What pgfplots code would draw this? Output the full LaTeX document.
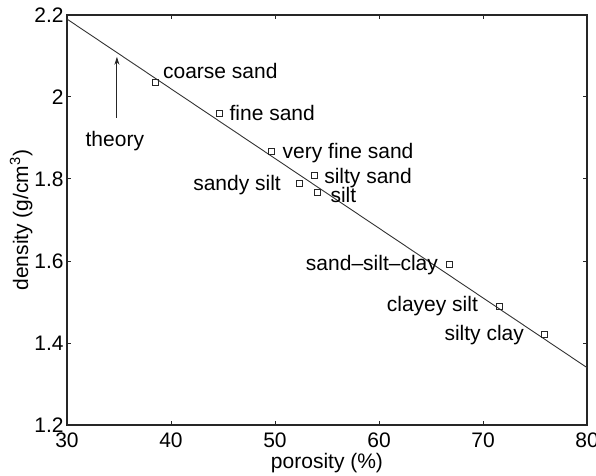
\documentclass[border=0pt]{standalone}
\usepackage{fontspec}
\setmainfont{Liberation Sans}
\usepackage{pgfplots}
\pgfplotsset{compat=1.18}
\usetikzlibrary{calc,arrows.meta}

% measured sediment samples: porosity (%) and bulk density (g/cm^3)
\pgfplotstableread{
x     y
38.5  2.035
44.7  1.959
49.7  1.867
52.3  1.789
53.8  1.808
54.1  1.768
66.8  1.592
71.6  1.489
75.9  1.422
}\samples

\begin{document}
\fontsize{10.5pt}{12.6pt}\selectfont
\begin{tikzpicture}
\begin{axis}[
  scale only axis, width=260pt, height=205pt,
  xmin=30, xmax=80, ymin=1.2, ymax=2.2,
  xtick={30,40,50,60,70,80},
  ytick={1.2,1.4,1.6,1.8,2,2.2},
  tick align=inside, major tick length=2pt,
  axis line style={line width=0.6pt, black!85},
  every tick/.style={black!85, line width=0.5pt},
  /pgf/number format/assume math mode=true,
  xticklabel style={anchor=base, yshift=-11.3pt},
  yticklabel style={anchor=east, inner sep=0pt, xshift=-1.5pt},
  clip=false,
]
% theoretical density line
\addplot[black!80, line width=0.45pt] coordinates {(30,2.19) (80,1.34)};
% samples
\addplot[only marks, mark=square, mark size=1.5pt, mark options={black!85, line width=0.4pt}] table {\samples};

\coordinate (ll) at (rel axis cs:0,0);
\coordinate (ur) at (rel axis cs:1,1);

\draw[black!85, line width=0.45pt, -{Stealth[length=4pt,width=2.5pt]}] (axis cs:34.8,1.949) -- (axis cs:34.8,2.098);
\node[anchor=base, inner sep=0] at (axis cs:34.6,1.879) {theory};

\node[anchor=base west, inner sep=0] at (axis cs:39.2,2.0456) {coarse sand};
\node[anchor=base west, inner sep=0] at (axis cs:45.6,1.942) {fine sand};
\node[anchor=base west, inner sep=0] at (axis cs:50.7,1.850) {very fine sand};
\node[anchor=base east, inner sep=0] at (axis cs:50.6,1.773) {sandy silt};
\node[anchor=base west, inner sep=0] at (axis cs:54.7,1.789) {silty sand};
\node[anchor=base west, inner sep=0] at (axis cs:55.3,1.743) {silt};
\node[anchor=base east, inner sep=0] at (axis cs:65.7,1.576) {sand--silt--clay};
\node[anchor=base east, inner sep=0] at (axis cs:69.55,1.476) {clayey silt};
\node[anchor=base east, inner sep=0] at (axis cs:73.97,1.407) {silty clay};
\end{axis}
% axis titles
\node[anchor=base, inner sep=0] at ($(ll)!0.5!(ll-|ur)+(0,-21.5pt)$) {porosity (\%)};
\node[anchor=base, inner sep=0, rotate=90] at ($(ll)!0.5!(ll|-ur)+(-19.5pt,0)$) {density (g/cm\textsuperscript{3})};
\pgfresetboundingbox
\path ($(ll)+(-33.5pt,-25pt)$) rectangle ($(ur)+(4.5pt,7.5pt)$);
\end{tikzpicture}
\end{document}
